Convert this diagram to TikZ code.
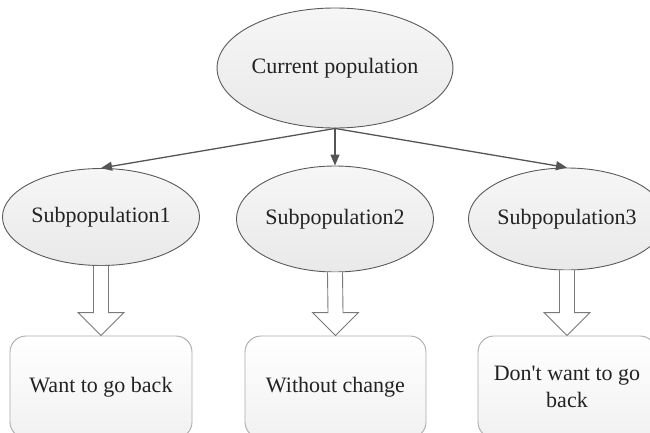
\documentclass[tikz,border=0pt]{standalone}
\usepackage{fontspec}
\setmainfont{Liberation Serif}[Ligatures=TeXOff]
\usetikzlibrary{shapes.geometric,arrows.meta,calc}
\definecolor{ellline}{HTML}{5A5A5A}
\definecolor{ellfillA}{HTML}{F6F6F6}
\definecolor{ellfillB}{HTML}{E9E9E9}
\definecolor{boxline}{HTML}{ABABAB}
\definecolor{boxfillB}{HTML}{F1F1F1}
\definecolor{arrcol}{HTML}{555555}
\definecolor{blkline}{HTML}{7A7A7A}
\definecolor{txt}{HTML}{222222}
\tikzset{
  ell/.style={ellipse, draw=ellline, line width=0.9pt, top color=ellfillA, bottom color=ellfillB, inner sep=0pt, text=txt, font=\fontsize{22}{27}\selectfont},
  resbox/.style={rectangle, rounded corners=16pt, draw=boxline, line width=0.9pt, top color=white, bottom color=boxfillB, minimum width=182pt, minimum height=102pt, inner sep=0pt, align=center, text=txt, font=\fontsize{22}{27}\selectfont},
  conn/.style={draw=arrcol, line width=1.3pt, -{Triangle[length=11pt,width=9pt]}},
  blk/.style={draw=blkline, line width=0.9pt, fill=white, line join=miter}
}
\begin{document}
\begin{tikzpicture}[x=1pt,y=-1pt]
\useasboundingbox (0,0) rectangle (650,433);
\begin{scope}
\clip (0,0) rectangle (650,433);
\node[ell, minimum width=214pt, minimum height=120pt] (top) at (335,68) {Current population};
\node[ell, minimum width=182pt, minimum height=97pt] (s1) at (101,217) {Subpopulation1};
\node[ell, minimum width=180pt, minimum height=106pt] (s2) at (335,219) {Subpopulation2};
\node[ell, minimum width=178pt, minimum height=102pt] (s3) at (567,219) {Subpopulation3};

\node[resbox] (b1) at (101,387) {Want to go back};
\node[resbox, minimum width=181pt] (b2) at (335.5,387) {Without change};
\node[resbox, minimum width=178pt] (b3) at (567,387) {Don't want to go\\back};

\coordinate (hub) at (top.south);
\draw[conn] (hub) -- (s1.north);
\draw[conn] (hub) -- (s2.north);
\draw[conn] (hub) -- (s3.north);

\foreach \s/\b in {s1/b1,s2/b2,s3/b3}{
  \draw[blk] ($(\s.south)+(-7.5,0)$) -- ($(\b.north)+(-7.5,-23)$) -- ($(\b.north)+(-23,-23)$)
    -- (\b.north) -- ($(\b.north)+(23,-23)$) -- ($(\b.north)+(7.5,-23)$) -- ($(\s.south)+(7.5,0)$);
}
\end{scope}
\end{tikzpicture}
\end{document}
